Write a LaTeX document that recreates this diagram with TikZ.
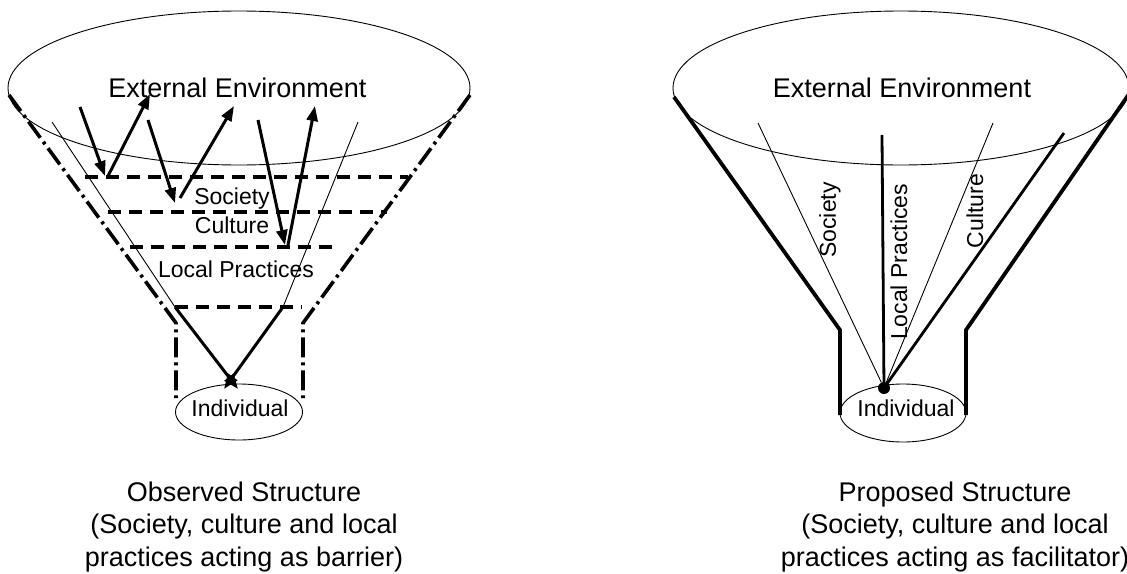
\documentclass[tikz,border=0pt]{standalone}
\usepackage{fontspec}
\setmainfont{Liberation Sans}
\usetikzlibrary{arrows.meta,shapes.geometric}
\begin{document}
\begin{tikzpicture}[x=1pt,y=-1pt,
  big/.style={font=\fontsize{27}{33}\selectfont},
  small/.style={font=\fontsize{23}{27}\selectfont},
  oval/.style={draw,ellipse,inner sep=0pt,line width=0.9pt},
  thinln/.style={line width=0.9pt},
  thickarr/.style={line width=3pt,-{Triangle[length=15pt,width=11pt]}},
  thickln/.style={line width=2.8pt},
  outerln/.style={line width=3.8pt,line join=miter},
  dashln/.style={line width=4pt,dash pattern=on 13pt off 8pt},
  dashdotln/.style={line width=3.6pt,dash pattern=on 20pt off 5pt on 3pt off 5pt},
  txt/.style={anchor=base,inner sep=0pt}]
\useasboundingbox (0,0) rectangle (1127,573);

% ================= LEFT FUNNEL =================
\node[oval,minimum width=462pt,minimum height=154pt] (envL) at (239,88) {};
\node[oval,minimum width=127pt,minimum height=56pt] (indL) at (239,412) {};
\node[txt,big] (envLt) at (237.5,97) {External Environment};
\node[txt,small] (socL) at (232,204) {Society};
\node[txt,small] (culL) at (232,233) {Culture};
\node[txt,small] (locL) at (236,277) {Local Practices};
\node[txt,small] (indLt) at (240,416) {Individual};

% outer dash-dot outline
\coordinate (oL1) at (9,95);
\coordinate (oL2) at (176,323);
\coordinate (oL3) at (176,398);
\coordinate (oR1) at (470,95);
\coordinate (oR2) at (303,323);
\coordinate (oR3) at (303,398);
\draw[dashdotln] (oL1) -- (oL2) -- (oL3);
\draw[dashdotln] (oR1) -- (oR2) -- (oR3);

% inner thin cone lines
\coordinate (iL1) at (52,122);
\coordinate (iL2) at (175,307);
\coordinate (iR1) at (358,122);
\coordinate (iR2) at (283,307);
\draw[thinln] (iL1) -- (iL2);
\draw[thinln] (iR1) -- (iR2);

% dashed layer boundaries
\coordinate (d1a) at (85,177);  \coordinate (d1b) at (408,177);
\coordinate (d2a) at (108,212); \coordinate (d2b) at (387,212);
\coordinate (d3a) at (130,247); \coordinate (d3b) at (338,247);
\coordinate (d4a) at (175,307); \coordinate (d4b) at (302,307);
\draw[dashln] (d1a) -- (d1b);
\draw[dashln] (d2a) -- (d2b);
\draw[dashln] (d3a) -- (d3b);
\draw[dashln] (d4a) -- (d4b);

% bottom crossing arrows
\coordinate (xL) at (238,389);
\coordinate (xR) at (224,389);
\draw[thickarr] (iL2) -- (xL);
\draw[thickarr] (iR2) -- (xR);

% zigzag arrows
\coordinate (z1a) at (80,107);  \coordinate (z1b) at (105,176);
\coordinate (z2a) at (108,176); \coordinate (z2b) at (150,94);
\coordinate (z3a) at (148,120); \coordinate (z3b) at (175,203);
\coordinate (z4a) at (180,198); \coordinate (z4b) at (234,106);
\coordinate (z5a) at (258,120); \coordinate (z5b) at (285,245);
\coordinate (z6a) at (288,245); \coordinate (z6b) at (315,106);
\draw[thickarr] (z1a) -- (z1b);
\draw[thickarr] (z2a) -- (z2b);
\draw[thickarr] (z3a) -- (z3b);
\draw[thickarr] (z4a) -- (z4b);
\draw[thickarr] (z5a) -- (z5b);
\draw[thickarr] (z6a) -- (z6b);

% caption
\node[txt,big] (capL1) at (244,501) {Observed Structure};
\node[txt,big] (capL2) at (244,533.5) {(Society, culture and local};
\node[txt,big] (capL3) at (244,566) {practices acting as barrier)};

% ================= RIGHT FUNNEL =================
\node[oval,minimum width=456pt,minimum height=154pt] (envR) at (901,88) {};
\node[oval,minimum width=126pt,minimum height=58pt] (indR) at (903,413) {};
\node[txt,big] (envRt) at (902,97) {External Environment};
\node[txt,small] (indRt) at (906,416) {Individual};

\coordinate (rL1) at (674,97);
\coordinate (rL2) at (840,330);
\coordinate (rL3) at (840,415);
\coordinate (rR1) at (1129,94);
\coordinate (rR2) at (966,330);
\coordinate (rR3) at (966,415);
\draw[outerln] (rL1) -- (rL2) -- (rL3);
\draw[outerln] (rR1) -- (rR2) -- (rR3);

\node[circle,fill,inner sep=0pt,minimum size=12pt] (blob) at (884,388) {};
\coordinate (s1) at (758,123);
\coordinate (s2) at (993,123);
\coordinate (c1) at (882,135);
\coordinate (t1) at (1064,133);
\draw[thinln] (s1) -- (blob);
\draw[thinln] (s2) -- (blob);
\draw[thickln] (c1) -- (blob.center);
\draw[thickln] (t1) -- (blob.center);

\node[small,rotate=90,inner sep=0pt] (socR) at (830,220) {Society};
\node[small,rotate=90,inner sep=0pt] (locR) at (899,262) {Local Practices};
\node[small,rotate=90,inner sep=0pt] (culR) at (975,211) {Culture};

\node[txt,big] (capR1) at (955,501) {Proposed Structure};
\node[txt,big] (capR2) at (955,533.5) {(Society, culture and local};
\node[txt,big] (capR3) at (955,566) {practices acting as facilitator)};
\end{tikzpicture}
\end{document}
